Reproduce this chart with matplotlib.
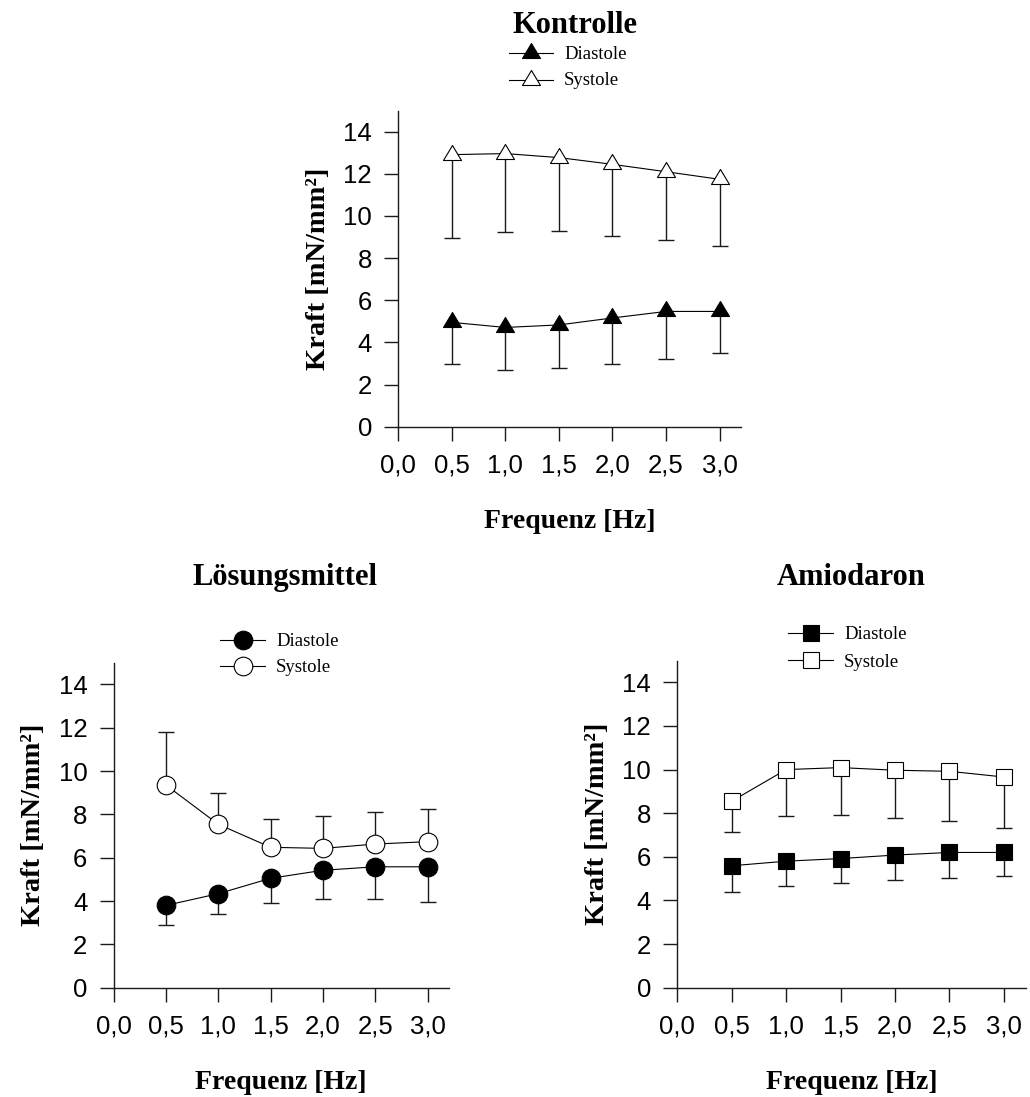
import matplotlib

matplotlib.use("Agg")
import matplotlib.pyplot as plt
import numpy as np
from matplotlib.lines import Line2D
from matplotlib.path import Path
from matplotlib.ticker import FuncFormatter

# Kraft (mN/mm²) over stimulation frequency, mean and one-sided SD
freq = [0.5, 1.0, 1.5, 2.0, 2.5, 3.0]

kontrolle_dia = [4.95, 4.71, 4.83, 5.16, 5.47, 5.47]
kontrolle_dia_sd = [1.98, 2.04, 2.06, 2.17, 2.26, 1.99]
kontrolle_sys = [12.91, 12.96, 12.77, 12.45, 12.10, 11.74]
kontrolle_sys_sd = [3.97, 3.71, 3.49, 3.39, 3.22, 3.15]

loesung_dia = [3.80, 4.34, 5.05, 5.42, 5.58, 5.58]
loesung_dia_sd = [0.92, 0.94, 1.14, 1.34, 1.49, 1.63]
loesung_sys = [9.35, 7.54, 6.48, 6.43, 6.63, 6.74]
loesung_sys_sd = [2.46, 1.46, 1.32, 1.48, 1.46, 1.51]

amio_dia = [5.59, 5.80, 5.92, 6.08, 6.20, 6.20]
amio_dia_sd = [1.19, 1.14, 1.13, 1.15, 1.16, 1.10]
amio_sys = [8.55, 10.00, 10.09, 9.97, 9.92, 9.66]
amio_sys_sd = [1.40, 2.15, 2.18, 2.18, 2.26, 2.32]

x_ticks = [0.0, 0.5, 1.0, 1.5, 2.0, 2.5, 3.0]
y_ticks = [0, 2, 4, 6, 8, 10, 12, 14]

W, H = 1030, 1097
SERIF = "Liberation Serif"
SANS = "Liberation Sans"
INK = "#1a1a1a"

# closed triangle with its centroid at the origin
TRIANGLE = Path([(0, 1), (-0.9, -0.5), (0.9, -0.5), (0, 1)], closed=True)
MARKERS = {
    "tri": dict(marker=TRIANGLE, ms=14.4),
    "circle": dict(marker="o", ms=13.4),
    "square": dict(marker="s", ms=12),
}

plt.rcParams["font.family"] = SANS


def fig_xy(px, py):
    """Pixel position from the top left corner -> figure fraction."""
    return px / W, 1 - py / H


def make_axes(fig, left, right, zero_y, top_y):
    x0, y0 = fig_xy(left, zero_y)
    x1, y1 = fig_xy(right, top_y)
    ax = fig.add_axes([x0, y0, x1 - x0, y1 - y0])
    ax.set_xlim(0, 3.2)
    ax.set_ylim(0, 15)
    for side in ("top", "right"):
        ax.spines[side].set_visible(False)
    for side in ("left", "bottom"):
        ax.spines[side].set_linewidth(1.0)
        ax.spines[side].set_color(INK)
    ax.set_xticks(x_ticks)
    ax.set_yticks(y_ticks)
    ax.xaxis.set_major_formatter(FuncFormatter(lambda v, _: f"{v:.1f}".replace(".", ",")))
    ax.tick_params(direction="out", length=10, width=1.0, color=INK,
                   labelsize=18.5, pad=9)
    ax.set_xlabel("Frequenz [Hz]", family=SERIF, weight="bold", fontsize=20, labelpad=23)
    ax.set_ylabel("Kraft [mN/mm²]", family=SERIF, weight="bold", fontsize=20.5, labelpad=9)
    ax.patch.set_alpha(0)
    return ax


def draw_series(ax, y, sd, shape, filled, upward=False):
    y = np.asarray(y)
    sd = np.asarray(sd)
    end = y + sd if upward else y - sd
    ax.vlines(freq, np.minimum(y, end), np.maximum(y, end), color=INK, lw=1.0, zorder=2)
    ax.plot(freq, end, ls="none", marker="_", ms=11, mew=1.0, color=INK, zorder=2)
    ax.plot(freq, y, color="black", lw=0.8, zorder=3,
            mfc="black" if filled else "white", mec="black", mew=0.8,
            **MARKERS[shape])


def draw_legend(fig, shape, x_left, x_right, rows):
    """rows: (label, filled, marker centre y, text baseline y) in pixels."""
    for label, filled, my, ty in rows:
        xa, ya = fig_xy(x_left, my)
        xb, _ = fig_xy(x_right, my)
        fig.add_artist(Line2D([xa, xb], [ya, ya], color="black", lw=0.8,
                              transform=fig.transFigure))
        fig.add_artist(Line2D([(xa + xb) / 2], [ya], ls="none",
                              mfc="black" if filled else "white", mec="black", mew=0.8,
                              transform=fig.transFigure, **MARKERS[shape]))
        tx, ty = fig_xy(x_right + 11, ty)
        fig.text(tx, ty, label, family=SERIF, fontsize=13.5, va="baseline", ha="left")


fig = plt.figure(figsize=(W / 100, H / 100), dpi=100)

# Kontrolle
ax = make_axes(fig, 398.3, 741, 426.7, 110.6)
draw_series(ax, kontrolle_dia, kontrolle_dia_sd, "tri", True)
draw_series(ax, kontrolle_sys, kontrolle_sys_sd, "tri", False)
fig.text(*fig_xy(575, 33), "Kontrolle", family=SERIF, weight="bold", fontsize=22,
         ha="center", va="baseline")
draw_legend(fig, "tri", 509, 553, [("Diastole", True, 53, 59), ("Systole", False, 80, 85)])

# Lösungsmittel
ax = make_axes(fig, 113.7, 448.6, 987.7, 662.7)
draw_series(ax, loesung_dia, loesung_dia_sd, "circle", True)
draw_series(ax, loesung_sys, loesung_sys_sd, "circle", False, upward=True)
fig.text(*fig_xy(285, 585), "Lösungsmittel", family=SERIF, weight="bold", fontsize=22,
         ha="center", va="baseline")
draw_legend(fig, "circle", 220, 265, [("Diastole", True, 640, 646.5), ("Systole", False, 666, 671.5)])

# Amiodaron
ax = make_axes(fig, 677.3, 1025.5, 987.7, 660.5)
draw_series(ax, amio_dia, amio_dia_sd, "square", True)
draw_series(ax, amio_sys, amio_sys_sd, "square", False)
fig.text(*fig_xy(851, 585), "Amiodaron", family=SERIF, weight="bold", fontsize=22,
         ha="center", va="baseline")
draw_legend(fig, "square", 788, 833, [("Diastole", True, 632.7, 639), ("Systole", False, 660, 667)])

fig.savefig("out.png", dpi=100)
